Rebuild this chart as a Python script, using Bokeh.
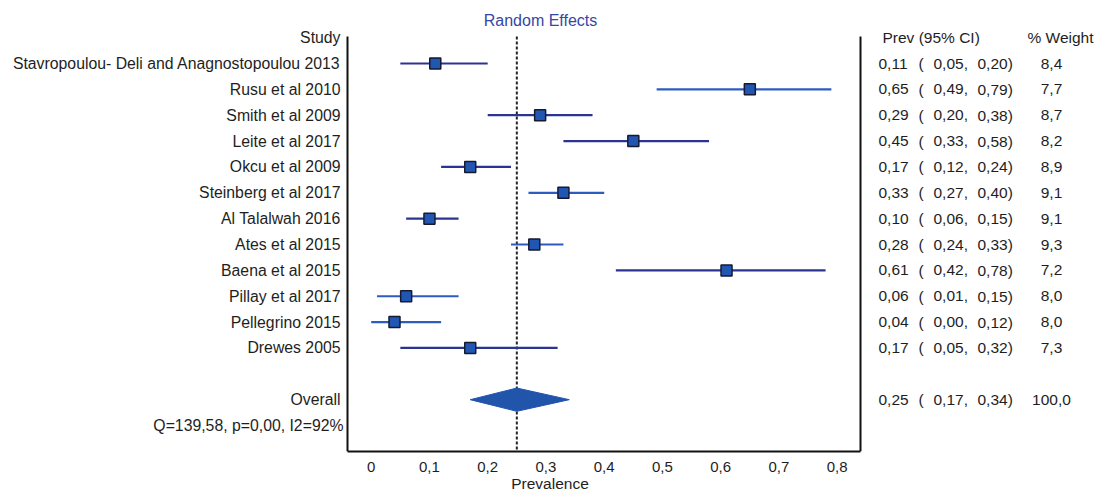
from bokeh.plotting import figure
from bokeh.models import Range1d, FixedTicker, CustomJSTickFormatter, ColumnDataSource
from bokeh.core.properties import value
from bokeh.embed import file_html
from bokeh.resources import INLINE

# ---------------- data ----------------
studies = [
    "Stavropoulou- Deli and Anagnostopoulou 2013",
    "Rusu et al 2010",
    "Smith et al 2009",
    "Leite et al 2017",
    "Okcu et al 2009",
    "Steinberg et al 2017",
    "Al Talalwah 2016",
    "Ates et al 2015",
    "Baena et al 2015",
    "Pillay et al 2017",
    "Pellegrino 2015",
    "Drewes 2005",
]
prev = [0.11, 0.65, 0.29, 0.45, 0.17, 0.33, 0.10, 0.28, 0.61, 0.06, 0.04, 0.17]
ci_low = [0.05, 0.49, 0.20, 0.33, 0.12, 0.27, 0.06, 0.24, 0.42, 0.01, 0.00, 0.05]
ci_high = [0.20, 0.79, 0.38, 0.58, 0.24, 0.40, 0.15, 0.33, 0.78, 0.15, 0.12, 0.32]
weight = [8.4, 7.7, 8.7, 8.2, 8.9, 9.1, 9.1, 9.3, 7.2, 8.0, 8.0, 7.3]

overall_prev = 0.25
overall_low = 0.17
overall_high = 0.34
overall_weight = 100.0
heterogeneity = "Q=139,58, p=0,00, I2=92%"

x_ticks = [0, 0.1, 0.2, 0.3, 0.4, 0.5, 0.6, 0.7, 0.8]

# ---------------- layout constants ----------------
W, H = 1099, 495
MB_BOTTOM = 44
X0_PX, XSCALE = 370.7, 582.5      # px of x=0, px per unit
ROW0_PX, ROW_STEP = 63, 25.86     # px of first row, px per row

def fx(px):
    return (px - X0_PX) / XSCALE

def fy(px):
    return (px - ROW0_PX) / ROW_STEP

frame_bottom_px = H - MB_BOTTOM
y_top = fy(0)
y_bottom = fy(frame_bottom_px)
border_top = fy(36)
left_border = fx(347)
right_border = fx(860)

FONT = value("Liberation Sans")
TXT = "#1e1e1e"
NAVY = "#2b3591"
LIGHT = "#2c5cc0"
line_colors = [NAVY, LIGHT, NAVY, NAVY, NAVY, LIGHT, NAVY, LIGHT, NAVY, LIGHT, LIGHT, NAVY]

def fmt(v, nd=2):
    return f"{v:.{nd}f}".replace(".", ",")

rows = list(range(len(studies)))
overall_row = len(studies) + 1
het_row = overall_row + 1

p = figure(width=W, height=H, output_backend="svg", toolbar_location=None,
           x_range=Range1d(fx(0), fx(W)), y_range=Range1d(y_bottom, y_top),
           y_axis_type=None, min_border_left=0, min_border_right=0,
           min_border_top=0, min_border_bottom=MB_BOTTOM)
p.xgrid.visible = False
p.ygrid.visible = False
p.outline_line_color = None
p.background_fill_color = "white"
p.border_fill_color = "white"

# frame borders
p.segment(x0=[left_border, right_border], y0=[border_top, border_top],
          x1=[left_border, right_border], y1=[y_bottom, y_bottom],
          line_color="#111111", line_width=2)

# reference line at overall estimate
p.segment(x0=[overall_prev], y0=[border_top], x1=[overall_prev], y1=[y_bottom],
          line_color="#222222", line_width=2, line_dash="3 2")

src = ColumnDataSource(dict(
    row=rows, prev=prev, lo=ci_low, hi=ci_high, color=line_colors,
    study=studies,
    est=[fmt(v) for v in prev],
    los=[fmt(v) + "," for v in ci_low],
    his=[fmt(v) + ")" for v in ci_high],
    w=[fmt(v, 1) for v in weight],
))

p.segment(x0="lo", y0="row", x1="hi", y1="row", line_color="color", line_width=2.2, source=src)
p.scatter(x="prev", y="row", marker="square", size=11, fill_color="#2157b3",
          line_color="#151a30", line_width=1.5, source=src)

# overall diamond
dh = 0.45
p.patch(x=[overall_low, overall_prev, overall_high, overall_prev],
        y=[overall_row, overall_row - dh, overall_row, overall_row + dh],
        fill_color="#2154ab", line_color="#2154ab", line_width=1)

# left labels
p.text(x=fx(340), y="row", text="study", source=src, text_font=FONT,
       text_font_size="15.8px", text_color=TXT, text_align="right", text_baseline="middle")
p.text(x=[fx(340), fx(340), fx(343)], y=[-1, overall_row, het_row],
       text=["Study", "Overall", heterogeneity], text_font=FONT,
       text_font_size="15.8px", text_color=TXT, text_align="right", text_baseline="middle")

# title
p.text(x=[fx(540)], y=[fy(20)], text=["Random Effects"], text_font=FONT,
       text_font_size="16px", text_color="#3546a6", text_align="center", text_baseline="middle")

# right columns
osrc = ColumnDataSource(dict(row=[overall_row], est=[fmt(overall_prev)],
                             los=[fmt(overall_low) + ","], his=[fmt(overall_high) + ")"],
                             w=[fmt(overall_weight, 1)]))
for s in (src, osrc):
    p.text(x=fx(878), y="row", text="est", source=s, text_font=FONT, text_font_size="15.5px",
           text_color=TXT, text_align="left", text_baseline="middle")
    p.text(x=fx(918), y="row", text=value("("), source=s, text_font=FONT, text_font_size="15.5px",
           text_color=TXT, text_align="left", text_baseline="middle")
    p.text(x=fx(933), y="row", text="los", source=s, text_font=FONT, text_font_size="15.5px",
           text_color=TXT, text_align="left", text_baseline="middle")
    p.text(x=fx(977), y="row", text="his", source=s, text_font=FONT, text_font_size="15.5px",
           text_color=TXT, text_align="left", text_baseline="middle")
    p.text(x=fx(1051), y="row", text="w", source=s, text_font=FONT, text_font_size="15.5px",
           text_color=TXT, text_align="center", text_baseline="middle")

p.text(x=[fx(882), fx(1027)], y=[-1, -1], text=["Prev (95% CI)", "% Weight"],
       text_font=FONT, text_font_size="15.5px", text_color=TXT,
       text_align="left", text_baseline="middle")

# x axis
ax = p.xaxis[0]
ax.ticker = FixedTicker(ticks=x_ticks)
ax.bounds = (left_border, right_border)
ax.formatter = CustomJSTickFormatter(code="""
    if (Math.abs(tick) < 1e-9) { return '0'; }
    return tick.toFixed(1).replace('.', ',');
""")
ax.axis_line_width = 2
ax.axis_line_color = "#111111"
ax.major_tick_out = 0
ax.major_tick_in = 0
ax.minor_tick_out = 0
ax.minor_tick_in = 0
ax.major_label_standoff = 10
ax.major_label_text_font = "Liberation Sans"
ax.major_label_text_font_size = "15px"
ax.major_label_text_color = TXT
ax.axis_label = "Prevalence"
ax.axis_label_standoff = 0
ax.axis_label_text_font = "Liberation Sans"
ax.axis_label_text_font_size = "15.5px"
ax.axis_label_text_font_style = "normal"
ax.axis_label_text_color = TXT

open("out.html", "w").write(file_html(p, INLINE))
